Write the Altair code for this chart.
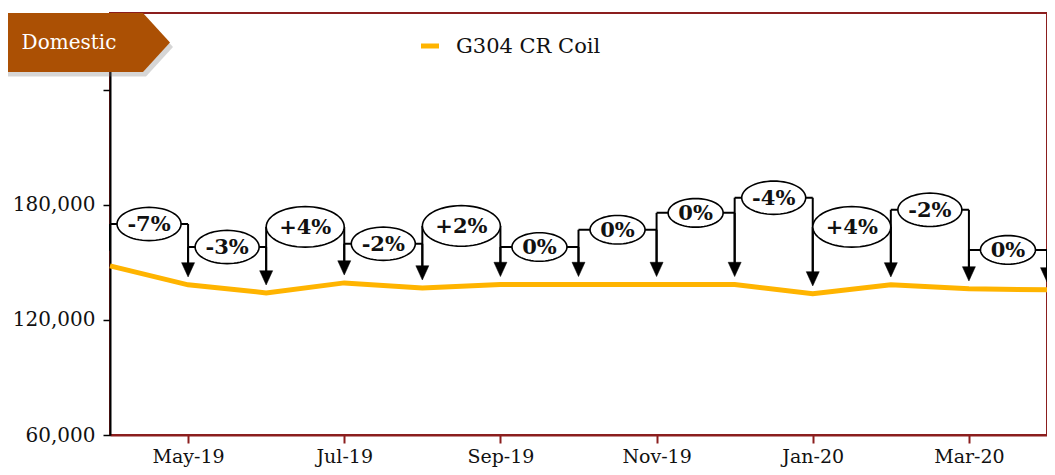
import altair as alt
import pandas as pd
import numpy as np

# ---- data ----
months = ["Apr-19", "May-19", "Jun-19", "Jul-19", "Aug-19", "Sep-19", "Oct-19",
          "Nov-19", "Dec-19", "Jan-20", "Feb-20", "Mar-20", "Apr-20"]
coil = [148200, 138300, 134100, 139300, 136700, 138500, 138500,
        138500, 138500, 133600, 138300, 136200, 135700]
changes = ["-7%", "-3%", "+4%", "-2%", "+2%", "0%", "0%", "0%", "-4%", "+4%", "-2%", "0%"]
label_levels = [170000, 158000, 168500, 159700, 169000, 158000, 167000,
                175800, 183700, 168500, 177400, 156500]
y_ticks = [60000, 120000, 180000, 240000]
x_ticks = [1, 3, 5, 7, 9, 11]
series_name = "G304 CR Coil"
banner_text = "Domestic"

SERIF = "DejaVu Serif"
RED = "#8B1E1E"
ORANGE = "#FFB400"
BANNER = "#AB5004"

# ---- tables ----
line_df = pd.DataFrame({"i": list(range(len(months))), "month": months, "v": coil})

lab_rows, vert_rows = [], []
for k, (c, lvl) in enumerate(zip(changes, label_levels)):
    w = 78 if c.startswith("+") else (64 if c.startswith("-") else 55)
    lab_rows.append({"xm": k + 0.5, "x0": k, "x1": k + 1, "lvl": lvl, "txt": c, "sz": w * w})
    vert_rows.append({"x": k, "top": lvl, "bot": coil[k]})
    vert_rows.append({"x": k + 1, "top": lvl, "bot": coil[k + 1]})
lab_df = pd.DataFrame(lab_rows)
vert_df = pd.DataFrame(vert_rows)
arrow_df = line_df[line_df["i"] > 0]
dummy = pd.DataFrame({"a": [0]})

t = np.linspace(0, 2 * np.pi, 61)[:-1]
ELLIPSE = "M " + " L ".join(f"{np.cos(a):.4f} {0.52 * np.sin(a):.4f}" for a in t) + " Z"
ARROW = "M -1 -1.1 L 1 -1.1 L 0 1.1 Z"
PENT = "M -2.833 -0.983 L 1.933 -0.983 L 2.833 0 L 1.933 0.983 L -2.833 0.983 Z"

label_expr = "[" + ",".join(f"'{m}'" for m in months) + "][datum.value]"

xs = alt.Scale(domain=[0, len(months) - 1], nice=False, zero=False)
ys = alt.Scale(domain=[60000, 280000], nice=False, zero=False)

x_axis = alt.Axis(values=x_ticks, labelExpr=label_expr, title=None, grid=False,
                  domainColor=RED, domainWidth=2, tickColor=RED, tickWidth=2, tickSize=8,
                  labelPadding=4, labelFont=SERIF, labelFontSize=19, labelColor="#111")
y_axis = alt.Axis(values=y_ticks, labelExpr="datum.value > 200000 ? '' : format(datum.value, ',')",
                  title=None, grid=False, domainColor="black", domainWidth=2,
                  tickColor="black", tickWidth=1.5, tickSize=7, labelPadding=8,
                  labelFont=SERIF, labelFontSize=20, labelColor="#111")


def X(f):
    return alt.X(f, scale=xs, axis=x_axis)


def Y(f):
    return alt.Y(f, scale=ys, axis=y_axis)


line = alt.Chart(line_df).mark_line(color=ORANGE, strokeWidth=5).encode(
    x=X("i:Q"), y=Y("v:Q"))

verts = alt.Chart(vert_df).mark_rule(color="black", strokeWidth=2, y2Offset=-15).encode(
    x=X("x:Q"), y=Y("top:Q"), y2="bot:Q")

horiz = alt.Chart(lab_df).mark_rule(color="black", strokeWidth=2).encode(
    x=X("x0:Q"), x2="x1:Q", y=Y("lvl:Q"))

arrows = alt.Chart(arrow_df).mark_point(shape=ARROW, filled=True, fill="black", stroke="black",
                                        strokeWidth=0.5, opacity=1, size=169, yOffset=-15).encode(
    x=X("i:Q"), y=Y("v:Q"))

ellipses = alt.Chart(lab_df).mark_point(shape=ELLIPSE, filled=True, fill="white", stroke="black",
                                        strokeWidth=1.6, opacity=1, fillOpacity=1).encode(
    x=X("xm:Q"), y=Y("lvl:Q"),
    size=alt.Size("sz:Q", scale=None, legend=None))

texts = alt.Chart(lab_df).mark_text(font=SERIF, fontSize=21, fontWeight="bold", color="#111",
                                    baseline="middle", align="center", dy=1).encode(
    x=X("xm:Q"), y=Y("lvl:Q"), text="txt:N")

shadow = alt.Chart(dummy).mark_point(shape=PENT, filled=True, fill="#777", opacity=0.3,
                                     size=3600, strokeWidth=0).encode(
    x=alt.value(-22), y=alt.value(34))
banner = alt.Chart(dummy).mark_point(shape=PENT, filled=True, fill=BANNER, opacity=1,
                                     size=3600, strokeWidth=0).encode(
    x=alt.value(-25), y=alt.value(29.5))
banner_txt = alt.Chart(dummy).mark_text(font=SERIF, fontSize=20, color="white",
                                        align="center", baseline="middle").encode(
    x=alt.value(-41), y=alt.value(30), text=alt.value(banner_text))

leg_dash = alt.Chart(dummy).mark_rule(color=ORANGE, strokeWidth=5).encode(
    x=alt.value(311), x2=alt.value(329), y=alt.value(33))
leg_txt = alt.Chart(dummy).mark_text(font=SERIF, fontSize=21, color="#111",
                                     align="left", baseline="middle").encode(
    x=alt.value(346), y=alt.value(34), text=alt.value(series_name))

chart = alt.layer(
    line, verts, horiz, arrows, ellipses, texts, shadow, banner, banner_txt, leg_dash, leg_txt
).properties(
    width=937, height=422,
    autosize=alt.AutoSizeParams(type="none"),
    padding={"left": 102, "top": 5, "right": 0, "bottom": 33},
).configure(
    font=SERIF, background="white"
).configure_view(
    stroke=RED, strokeWidth=2
)

chart.save("out.html", embed_options={"renderer": "svg", "actions": False})
